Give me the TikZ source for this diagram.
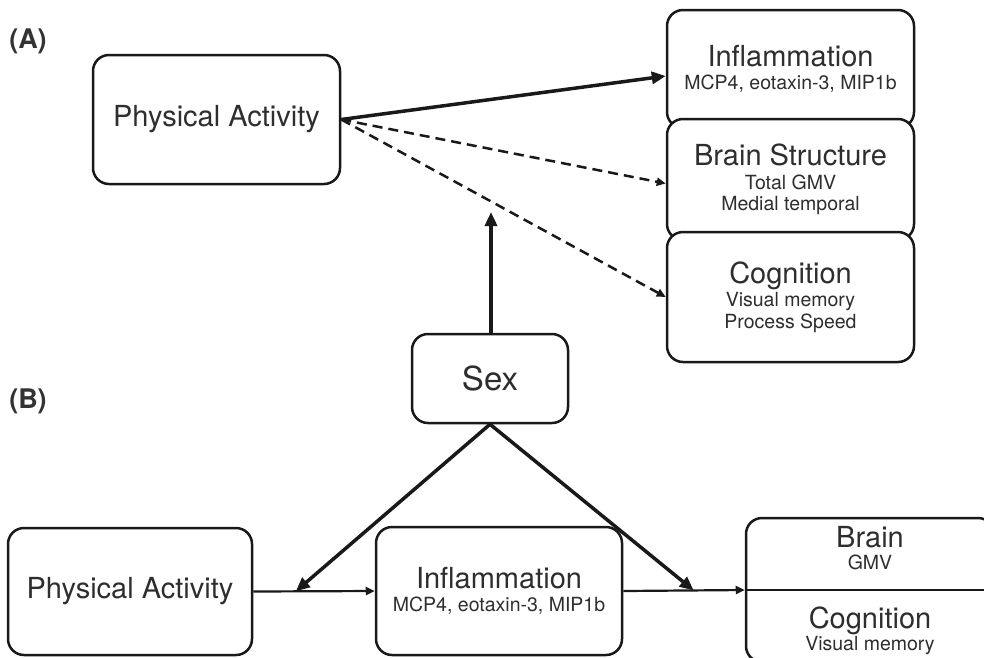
\documentclass[tikz,border=0pt]{standalone}
\usepackage{fontspec}
\setmainfont{TeX Gyre Heros}
\usepackage{tikz}
\usetikzlibrary{arrows.meta,calc}
\colorlet{boxLine}{black!90}
\colorlet{boxText}{black!82}
\colorlet{panelLabel}{black!80}
\newcommand{\boxTitle}[1]{{\fontsize{29}{31}\selectfont #1}}

\begin{document}
\begin{tikzpicture}[
  x=1pt,
  y=-1pt,
  every node/.style={
    text=boxText,
  },
  box/.style={
    draw=boxLine,
    line width=2.5pt,
    rounded corners=16pt,
    fill=white,
    align=center,
    inner sep=0pt,
    font=\fontsize{19.5}{21.5}\selectfont,
  },
  panel/.style={
    font=\fontsize{27}{29}\selectfont\bfseries,
    text=panelLabel,
  },
  strong arrow/.style={
    draw=boxLine,
    line width=3.5pt,
    -{Triangle[length=14pt,width=12pt]},
  },
  weak arrow/.style={
    draw=boxLine,
    line width=2.5pt,
    dash pattern=on 10pt off 6pt,
    -{Triangle[length=9pt,width=8pt]},
  },
  thin arrow/.style={
    draw=boxLine,
    line width=2.2pt,
    -{Triangle[length=9pt,width=8pt]},
  }
]
\useasboundingbox (0,0) rectangle (984,657);
\clip (0,0) rectangle (984,657);

\node[panel] (labelA) at (28,41) {(A)};
\node[panel] (labelB) at (28,401) {(B)};

\node[box,minimum width=247pt,minimum height=129pt] (paA) at (216.5,119.5)
  {\boxTitle{Physical Activity}};
\node[box,minimum width=247pt,minimum height=118pt] (infA) at (790.5,69)
  {\boxTitle{Inflammation}\\[2pt] MCP4, eotaxin-3, MIP1b};
\node[box,minimum width=247pt,minimum height=121pt] (brainA) at (790.5,179.5)
  {\boxTitle{Brain Structure}\\[2pt] Total GMV\\ Medial temporal};
\node[box,minimum width=247pt,minimum height=130pt] (cogA) at (790.5,297)
  {\boxTitle{Cognition}\\[2pt] Visual memory\\ Process Speed};
\node[box,minimum width=156pt,minimum height=89pt] (sex) at (490,378.5)
  {{\fontsize{33}{35}\selectfont Sex}};

\draw[strong arrow] (paA.east) -- ([yshift=-7pt]infA.west);
\draw[weak arrow] (paA.east) -- ([yshift=-4pt]brainA.west);
\draw[weak arrow] (paA.east) -- (cogA.west);
\coordinate (modTip) at (491,212);
\draw[strong arrow] (sex.north -| modTip) -- (modTip);

\node[box,minimum width=244pt,minimum height=127pt] (paB) at (130,591.5)
  {\boxTitle{Physical Activity}};
\node[box,minimum width=246pt,minimum height=128pt] (infB) at (499,591)
  {\boxTitle{Inflammation}\\[2pt] MCP4, eotaxin-3, MIP1b};
\node[box,minimum width=248pt,minimum height=144pt] (outB) at (870,590) {};
\draw[draw=boxLine,line width=2.5pt] (outB.west) -- (outB.east);
\node[align=center,font=\fontsize{19.5}{21.5}\selectfont] (brainB) at (870,548)
  {\boxTitle{Brain}\\[1pt] GMV};
\node[align=center,font=\fontsize{19.5}{21.5}\selectfont] (cogB) at (870,631)
  {\boxTitle{Cognition}\\[1pt] Visual memory};

\coordinate (jointL) at ($(paB.east)!0.35!(infB.west)$);
\coordinate (jointR) at ($(infB.east)!0.58!(outB.west)$);
\draw[thin arrow] (paB.east) -- (infB.west);
\draw[thin arrow] (infB.east) -- (outB.west);
\draw[strong arrow] (sex.south) -- (jointL);
\draw[strong arrow] (sex.south) -- (jointR);
\end{tikzpicture}
\end{document}
